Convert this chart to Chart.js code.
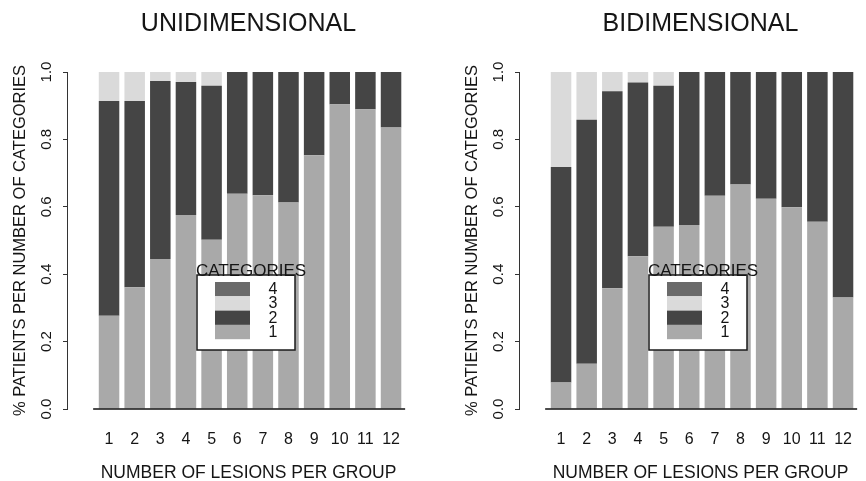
<!DOCTYPE html>
<html>
<head>
<meta charset="utf-8">
<script src="https://cdn.jsdelivr.net/npm/chart.js@4/dist/chart.umd.min.js"></script>
<style>
  html, body { margin: 0; padding: 0; background: #ffffff; }
  body { width: 866px; height: 481px; overflow: hidden; position: relative; }
  .panel { position: absolute; top: 0; width: 494px; height: 481px; }
  #leftPanel { left: 0; }
  #rightPanel { left: 452px; }
</style>
</head>
<body>
<div class="panel" id="leftPanel"><canvas id="uniChart" width="494" height="481"></canvas></div>
<div class="panel" id="rightPanel"><canvas id="biChart" width="494" height="481"></canvas></div>
<script>
// ---- data ----
const lesionGroups = ['1','2','3','4','5','6','7','8','9','10','11','12'];
const categoryLabels = ['1','2','3','4'];
const yTickValues = [0, 0.2, 0.4, 0.6, 0.8, 1.0];

// UNIDIMENSIONAL: share of patients per number of categories
const uniCat1 = [0.277, 0.361, 0.445, 0.576, 0.502, 0.639, 0.634, 0.613, 0.753, 0.904, 0.889, 0.835];
const uniCat2 = [0.637, 0.553, 0.528, 0.394, 0.457, 0.361, 0.366, 0.387, 0.247, 0.096, 0.111, 0.165];
const uniCat3 = [0.086, 0.086, 0.027, 0.030, 0.041, 0, 0, 0, 0, 0, 0, 0];
const uniCat4 = [0, 0, 0, 0, 0, 0, 0, 0, 0, 0, 0, 0];

// BIDIMENSIONAL
const biCat1 = [0.079, 0.134, 0.358, 0.453, 0.541, 0.546, 0.633, 0.666, 0.624, 0.599, 0.556, 0.331];
const biCat2 = [0.639, 0.724, 0.585, 0.516, 0.418, 0.454, 0.367, 0.334, 0.376, 0.401, 0.444, 0.669];
const biCat3 = [0.282, 0.142, 0.057, 0.031, 0.041, 0, 0, 0, 0, 0, 0, 0];
const biCat4 = [0, 0, 0, 0, 0, 0, 0, 0, 0, 0, 0, 0];

// ---- styling ----
const categoryColors = ['#a9a9a9', '#454545', '#dadada', '#6a6a6a'];
const FONT = "'Liberation Sans', Arial, Helvetica, sans-serif";
const TEXT = '#151515';
const xRange = [-0.05, 12.93];
const baselineRange = [0.38, 12.55];

Chart.defaults.font.family = FONT;
Chart.defaults.color = TEXT;

const baselinePlugin = {
  id: 'baseline',
  afterDatasetsDraw(chart) {
    const xs = chart.scales.x, ys = chart.scales.y, ctx = chart.ctx;
    const y = ys.getPixelForValue(0);
    ctx.save();
    ctx.strokeStyle = '#111';
    ctx.lineWidth = 1.5;
    ctx.beginPath();
    ctx.moveTo(xs.getPixelForValue(baselineRange[0]), y);
    ctx.lineTo(xs.getPixelForValue(baselineRange[1]), y);
    ctx.stroke();
    ctx.restore();
  }
};

const categoryLegendPlugin = {
  id: 'categoryLegend',
  afterDraw(chart) {
    const ctx = chart.ctx, ca = chart.chartArea;
    const bx = ca.left + 130, by = ca.top + 203, bw = 98, bh = 75;
    ctx.save();
    ctx.fillStyle = '#ffffff';
    ctx.fillRect(bx, by, bw, bh);
    ctx.strokeStyle = '#1a1a1a';
    ctx.lineWidth = 1.5;
    ctx.strokeRect(bx, by, bw, bh);
    // title
    ctx.fillStyle = TEXT;
    ctx.font = "17px " + FONT;
    ctx.textAlign = 'left';
    ctx.textBaseline = 'alphabetic';
    ctx.fillText('CATEGORIES', bx - 1, by + 0.5);
    // items, top = last category
    const items = chart.data.datasets.slice().reverse();
    const rowH = 14.3, rowTop = by + 7;
    ctx.font = "16px " + FONT;
    ctx.textAlign = 'center';
    ctx.textBaseline = 'middle';
    items.forEach((ds, k) => {
      const ry = rowTop + k * rowH;
      ctx.fillStyle = ds.backgroundColor;
      ctx.fillRect(bx + 18, ry, 35, rowH);
      ctx.fillStyle = TEXT;
      ctx.fillText(ds.label, bx + 76, ry + rowH / 2 + 0.5);
    });
    ctx.restore();
  }
};

function buildDatasets(series) {
  return series.map((vals, k) => ({
    label: categoryLabels[k],
    data: vals.map((v, i) => ({ x: i + 1, y: v })),
    backgroundColor: categoryColors[k],
    borderWidth: 0,
    barPercentage: 1.0,
    categoryPercentage: 0.8
  }));
}

function makeChart(id, titleText, series) {
  return new Chart(document.getElementById(id), {
    type: 'bar',
    data: { datasets: buildDatasets(series) },
    options: {
      responsive: false,
      devicePixelRatio: 1,
      animation: false,
      layout: { padding: { left: 0, right: 64, top: 0, bottom: 0 } },
      plugins: {
        legend: { display: false },
        tooltip: { enabled: false },
        title: {
          display: true,
          fullSize: false,
          text: titleText,
          color: TEXT,
          font: { size: 25, weight: 'normal', family: FONT },
          padding: { top: 9, bottom: 33 }
        }
      },
      scales: {
        x: {
          type: 'linear',
          stacked: true,
          min: xRange[0],
          max: xRange[1],
          grid: { display: false },
          border: { display: false },
          afterBuildTicks: (s) => { s.ticks = lesionGroups.map((g, i) => ({ value: i + 1 })); },
          afterFit: (s) => { s.height = 72; },
          ticks: {
            autoSkip: false,
            maxRotation: 0,
            minRotation: 0,
            padding: 13,
            color: TEXT,
            font: { size: 16 },
            callback: (v, i) => lesionGroups[i]
          },
          title: {
            display: true,
            text: 'NUMBER OF LESIONS PER GROUP',
            color: TEXT,
            font: { size: 17.5 },
            padding: { top: 0, bottom: -3 }
          }
        },
        y: {
          type: 'linear',
          stacked: true,
          min: 0,
          max: 1,
          afterBuildTicks: (s) => { s.ticks = yTickValues.map(v => ({ value: v })); },
          afterFit: (s) => { s.width = 67; },
          grid: { display: true, drawOnChartArea: false, drawTicks: true, tickLength: 4, color: '#333', lineWidth: 1 },
          border: { display: true, color: '#333', width: 1 },
          ticks: {
            minRotation: 90,
            maxRotation: 90,
            crossAlign: 'center',
            padding: 6,
            color: TEXT,
            font: { size: 15 },
            callback: (v) => Number(v).toFixed(1)
          },
          title: {
            display: true,
            text: '% PATIENTS PER NUMBER OF CATEGORIES',
            color: TEXT,
            font: { size: 16.5 },
            padding: { top: 11, bottom: 0 }
          }
        }
      }
    },
    plugins: [baselinePlugin, categoryLegendPlugin]
  });
}

makeChart('uniChart', 'UNIDIMENSIONAL', [uniCat1, uniCat2, uniCat3, uniCat4]);
makeChart('biChart', 'BIDIMENSIONAL', [biCat1, biCat2, biCat3, biCat4]);
</script>
</body>
</html>
